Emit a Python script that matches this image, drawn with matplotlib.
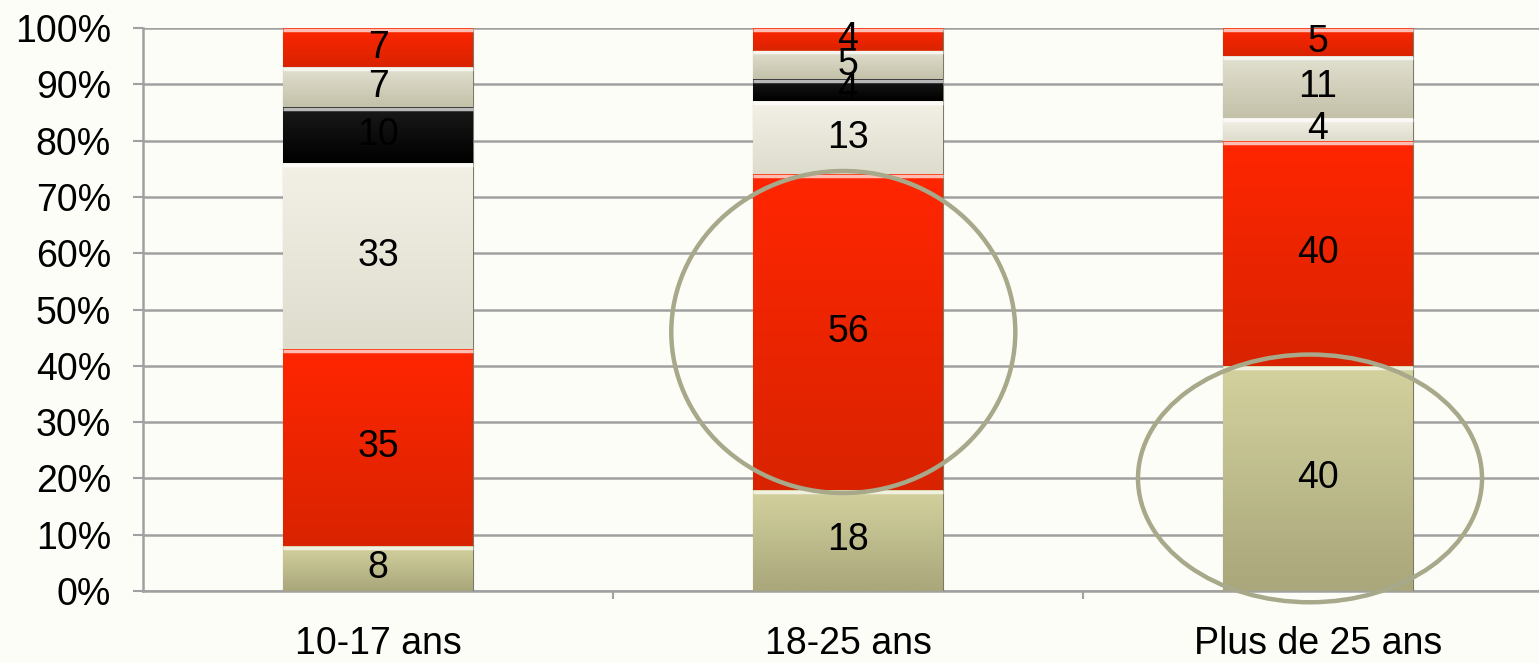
import numpy as np
import matplotlib
matplotlib.use("Agg")
import matplotlib.pyplot as plt
from matplotlib.patches import Ellipse
from matplotlib.colors import LinearSegmentedColormap

plt.rcParams['font.family'] = ['Liberation Sans', 'DejaVu Sans']

# données (pourcentages par tranche d'âge)
categories = ["10-17 ans", "18-25 ans", "Plus de 25 ans"]
serie_1 = [8, 18, 40]    # olive
serie_2 = [35, 56, 40]   # rouge
serie_3 = [33, 13, 4]    # gris clair
serie_4 = [10, 4, 0]     # noir
serie_5 = [7, 5, 11]     # gris beige
serie_6 = [7, 4, 5]      # rouge (haut)
series = [serie_1, serie_2, serie_3, serie_4, serie_5, serie_6]

# (couleur haut, couleur bas) pour un léger dégradé
colors = [("#d3d29e", "#a9a77b"),
          ("#ff2600", "#d92300"),
          ("#f3f1e6", "#dedccd"),
          ("#1a1a1a", "#000000"),
          ("#e2e0cf", "#c3c1a9"),
          ("#ff2600", "#d92300")]

bg = "#fdfdf8"
fig = plt.figure(figsize=(15.39, 6.63), dpi=100, facecolor=bg)
ax = fig.add_axes([143 / 1539, 72 / 663, 1396 / 1539, 563 / 663], facecolor=bg)

x = np.arange(len(categories))
width = 0.404
bottom = np.zeros(len(categories))
for vals, (c_top, c_bot) in zip(series, colors):
    vals = np.array(vals, dtype=float)
    bars = ax.bar(x, vals, width, bottom=bottom, color=c_bot,
                  edgecolor="#7a7a68", linewidth=0.8, zorder=3)
    cmap = LinearSegmentedColormap.from_list("g", [c_bot, c_top])
    grad = np.linspace(0, 1, 64).reshape(-1, 1)
    for bar, v in zip(bars, vals):
        if v <= 0:
            continue
        x0, y0 = bar.get_x(), bar.get_y()
        im = ax.imshow(grad, cmap=cmap, origin="lower", aspect="auto",
                       extent=[x0, x0 + bar.get_width(), y0, y0 + v],
                       zorder=3.5, interpolation="bilinear")
        im.set_clip_path(bar)
        # liseré clair en haut
        ax.plot([x0, x0 + bar.get_width()], [y0 + v - 0.35, y0 + v - 0.35],
                color="white", alpha=0.7, lw=2.5, zorder=3.6,
                solid_capstyle="butt")
        ax.text(x0 + bar.get_width() / 2, y0 + v / 2, f"{int(v)}",
                ha="center", va="center", fontsize=27, color="black", zorder=5)
    bottom += vals

# ellipses de mise en évidence
ring = "#a8a88a"
ax.add_patch(Ellipse((x[1] - 0.01, 46), 0.732, 57.2, fill=False,
                     edgecolor=ring, lw=3.2, zorder=6, clip_on=False))
ax.add_patch(Ellipse((x[2] - 0.017, 20), 0.732, 44, fill=False,
                     edgecolor=ring, lw=3.2, zorder=6, clip_on=False))

ax.set_ylim(0, 100)
ax.set_xlim(-0.5, -0.5 + 1396 / 470)
ax.set_yticks(np.arange(0, 101, 10))
ax.set_yticklabels([f"{v}%" for v in range(0, 101, 10)], fontsize=27)
ax.yaxis.grid(True, color="#a0a0a0", lw=1.8, zorder=0)
ax.set_axisbelow(True)

ax.set_xticks(x)
ax.set_xticklabels(categories, fontsize=27)
ax.set_xticks([0.5, 1.5], minor=True)
ax.tick_params(axis="x", which="major", length=0, pad=25)
ax.tick_params(axis="x", which="minor", length=6, width=1.5, color="#a0a0a0")
ax.tick_params(axis="y", length=7, width=1.5, color="#a0a0a0", pad=16)

for side in ["top", "right"]:
    ax.spines[side].set_visible(False)
for side in ["left", "bottom"]:
    ax.spines[side].set_color("#a0a0a0")
    ax.spines[side].set_linewidth(1.8)

fig.savefig("out.png", dpi=100, facecolor=bg)
